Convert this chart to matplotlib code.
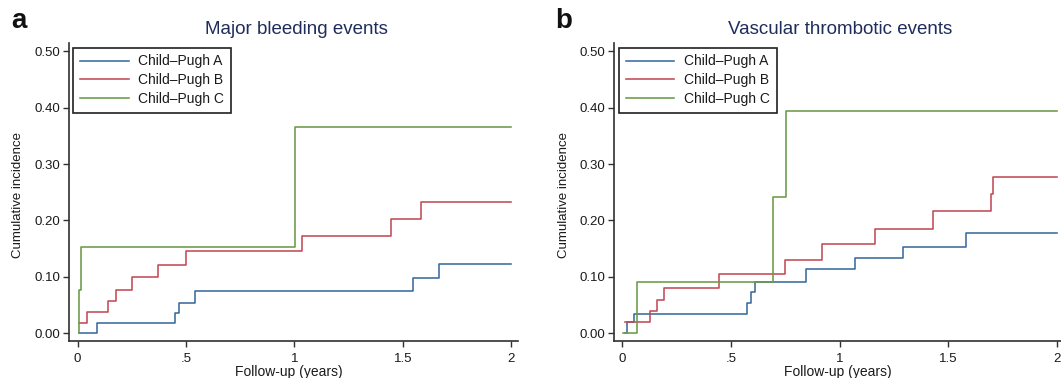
import matplotlib
matplotlib.use('Agg')
import matplotlib.pyplot as plt

plt.rcParams['font.family'] = ['Liberation Sans', 'DejaVu Sans']

# ---------------- data ----------------
groups = ['Child\u2013Pugh A', 'Child\u2013Pugh B', 'Child\u2013Pugh C']
end_time = 2.0
x_ticks = [0, 0.5, 1, 1.5, 2]
x_tick_labels = ['0', '.5', '1', '1.5', '2']
y_ticks = [0.0, 0.1, 0.2, 0.3, 0.4, 0.5]
y_tick_labels = ['0.00', '0.10', '0.20', '0.30', '0.40', '0.50']

panel_letters = ['a', 'b']
panel_titles = ['Major bleeding events', 'Vascular thrombotic events']

# Panel a: major bleeding (step times, cumulative incidence after step)
bleed_a_t = [0.005, 0.087, 0.448, 0.467, 0.542, 1.547, 1.669]
bleed_a_y = [0.000, 0.018, 0.035, 0.053, 0.074, 0.097, 0.122]
bleed_b_t = [0.005, 0.042, 0.139, 0.178, 0.251, 0.373, 0.498, 1.034, 1.444, 1.585]
bleed_b_y = [0.0185, 0.037, 0.057, 0.077, 0.100, 0.121, 0.145, 0.172, 0.203, 0.233]
bleed_c_t = [0.005, 0.008, 0.016, 1.002]
bleed_c_y = [0.000, 0.077, 0.153, 0.365]

# Panel b: vascular thrombotic events
vte_a_t = [0.013, 0.021, 0.056, 0.575, 0.594, 0.612, 0.847, 1.070, 1.292, 1.583]
vte_a_y = [0.000, 0.019, 0.034, 0.053, 0.073, 0.091, 0.113, 0.133, 0.153, 0.178]
vte_b_t = [0.014, 0.126, 0.158, 0.193, 0.445, 0.749, 0.919, 1.163, 1.428, 1.698, 1.705]
vte_b_y = [0.020, 0.039, 0.059, 0.080, 0.104, 0.130, 0.158, 0.185, 0.216, 0.246, 0.277]
vte_c_t = [0.005, 0.066, 0.692, 0.753]
vte_c_y = [0.000, 0.091, 0.242, 0.394]

colors = ['#3a6a9e', '#c24a55', '#6c9a47']
title_color = '#1f2d5c'
text_color = '#1a1a1a'

panels = [
    [(bleed_a_t, bleed_a_y), (bleed_b_t, bleed_b_y), (bleed_c_t, bleed_c_y)],
    [(vte_a_t, vte_a_y), (vte_b_t, vte_b_y), (vte_c_t, vte_c_y)],
]

# ---------------- figure ----------------
W, H = 1061, 378
fig = plt.figure(figsize=(W / 100, H / 100), dpi=100)

axes_px = [(69, 43, 518, 341), (614, 43, 1061, 341)]   # left, top, right, bottom
xlims = [(-0.040, 2.032), (-0.038, 2.019)]
ylim = (-0.0142, 0.515)
title_x = [296, 840]
letter_x = [11, 555]

for i, (l, t, r, b) in enumerate(axes_px):
    ax = fig.add_axes([l / W, (H - b) / H, (r - l) / W, (b - t) / H])
    for k, (tt, yy) in enumerate(panels[i]):
        xs = list(tt) + [end_time]
        ys = list(yy) + [yy[-1]]
        ax.plot(xs, ys, drawstyle='steps-post', color=colors[k], lw=1.15,
                label=groups[k])
    ax.set_xlim(*xlims[i])
    ax.set_ylim(*ylim)
    ax.set_xticks(x_ticks)
    ax.set_xticklabels(x_tick_labels)
    ax.set_yticks(y_ticks)
    ax.set_yticklabels(y_tick_labels)
    for s in ['top', 'right']:
        ax.spines[s].set_visible(False)
    for s in ['left', 'bottom']:
        ax.spines[s].set_linewidth(1.2)
        ax.spines[s].set_color('#303030')
    ax.tick_params(axis='both', direction='out', length=4, width=1.0,
                   color='#303030', labelsize=9.5, labelcolor=text_color)
    ax.tick_params(axis='x', pad=5)
    ax.tick_params(axis='y', pad=2.5)

    ax.text(0.49 if i == 0 else 0.50, (341 - 372) / 298, 'Follow-up (years)',
            transform=ax.transAxes, ha='center', va='center', fontsize=10,
            color=text_color)
    ax.text((18 - 69) / 449 if i == 0 else (564 - 614) / 447, 0.49,
            'Cumulative incidence', transform=ax.transAxes, rotation=90,
            ha='center', va='center', fontsize=9.5, color=text_color)

    leg = ax.legend(loc='upper left',
                    bbox_to_anchor=((4 if i == 0 else 4.7) / (r - l), (341 - 47.5) / 298),
                    borderaxespad=0, fontsize=10, frameon=True, fancybox=False,
                    edgecolor='#202020', framealpha=1, borderpad=0.5,
                    labelspacing=0.33, handlelength=3.5, handletextpad=0.7)
    leg.get_frame().set_linewidth(1.2)
    for txt in leg.get_texts():
        txt.set_color(text_color)

    fig.text(title_x[i] / W, 1 - 30 / H, panel_titles[i], ha='center', va='center',
             fontsize=13.5, color=title_color)
    fig.text(letter_x[i] / W, 1 - 21 / H, panel_letters[i], ha='left', va='center',
             fontsize=20, fontweight='bold', color='#111111')

fig.savefig('out.png', dpi=100)
